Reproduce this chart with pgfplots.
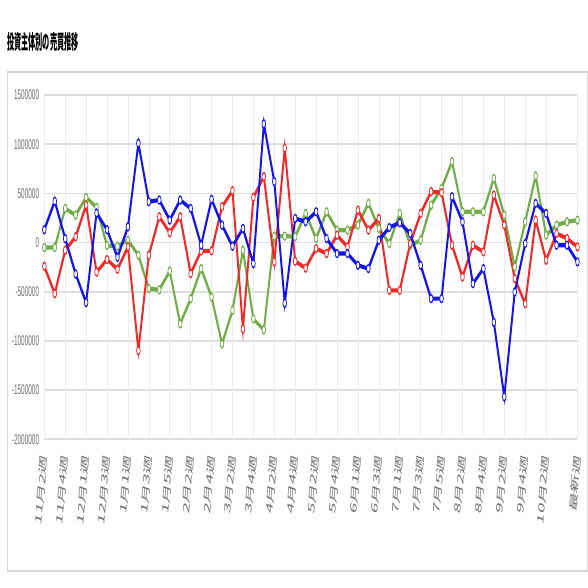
\documentclass[border=0pt]{standalone}
\usepackage{pgfplots}
\pgfplotsset{compat=1.18}
\usepackage{fontspec}
\setmainfont{Liberation Sans}
\newfontfamily\cjk{Noto Sans CJK JP}
\definecolor{cred}{RGB}{240,40,40}
\definecolor{cgreen}{RGB}{112,173,71}
\definecolor{cblue}{RGB}{20,20,235}
\definecolor{hgridc}{RGB}{222,222,222}
\definecolor{zeroc}{RGB}{192,192,192}
\definecolor{vgridc}{RGB}{236,236,236}
\definecolor{panelc}{RGB}{215,215,215}
\definecolor{labelc}{RGB}{110,110,110}
\begin{document}
\begin{tikzpicture}
\useasboundingbox (0,0) rectangle (588bp,588bp);
\begin{pgfinterruptboundingbox}
\begin{scope}[transform canvas={xscale=0.46}]
\draw[panelc, line width=2bp] (15.2bp,17bp) rectangle (1276bp,516bp);
\node[anchor=west, inner sep=0pt, xscale=0.78, font=\cjk\bfseries\fontsize{20bp}{22bp}\selectfont] at (15.2bp,546.5bp) {投資主体別の売買推移};
\begin{axis}[
  at={(96.3bp,148.7bp)}, anchor=south west,
  scale only axis, width=1159.1bp, height=344.3bp,
  xmin=0, xmax=51, ymin=-2000000, ymax=1500000,
  clip=false,
  axis line style={draw=none},
  tick style={draw=none},
  scaled y ticks=false,
  xtick={0,2,4,6,8,10,12,14,16,18,20,22,24,26,28,30,32,34,36,38,40,42,44,46,48,51},
  xticklabels={11月2週,11月4週,12月1週,12月3週,1月1週,1月3週,1月5週,2月2週,2月4週,3月2週,3月4週,4月2週,4月4週,5月2週,5月4週,6月1週,6月3週,7月1週,7月3週,7月5週,8月2週,8月4週,9月2週,9月4週,10月2週,最新週},
  ytick={-2000000,-1500000,-1000000,-500000,0,500000,1000000,1500000},
  yticklabels={-2000000,-1500000,-1000000,-500000,0,500000,1000000,1500000},
  xmajorgrids, ymajorgrids,
  x grid style={vgridc, line width=1.2bp},
  y grid style={hgridc, line width=1.6bp},
  extra y ticks={0}, extra y tick labels={},
  extra y tick style={grid style={zeroc, line width=2bp}},
  yticklabel style={font=\fontsize{14bp}{16bp}\selectfont, text=labelc, anchor=east, inner sep=0pt, xshift=-11bp},
  xticklabel style={font=\cjk\fontsize{19bp}{21bp}\selectfont, text=labelc, yshift=-16bp, anchor=east, rotate=80, inner sep=0pt},
]
\pgfplotsinvokeforeach{0,2,4,6,8,10,12,14,16,18,20,22,24,26,28,30,32,34,36,38,40,42,44,46,48,51}{
  \draw[vgridc, line width=1.2bp] (axis cs:#1,-2000000) -- ++(0,-86bp);
}
\addplot[cgreen, line width=4.2bp, mark=*, mark size=4bp, mark options={fill=white, draw=cgreen, line width=1.5bp}] coordinates {
(0,-51000) (1,-51000) (2,347000) (3,279000) (4,459000) (5,357000) (6,-30000) (7,-37000) (8,24000) (9,-129000)
(10,-469000) (11,-480000) (12,-290000) (13,-827000) (14,-571000) (15,-265000) (16,-554000) (17,-1031000) (18,-690000) (19,-78000)
(20,-776000) (21,-888000) (22,65000) (23,65000) (24,60000) (25,296000) (26,41000) (27,313000) (28,126000) (29,126000)
(30,177000) (31,398000) (32,143000) (33,-10000) (34,296000) (35,-27000) (36,24000) (37,381000) (38,551000) (39,823000)
(40,313000) (41,313000) (42,313000) (43,653000) (44,279000) (45,-248000) (46,211000) (47,677000) (48,75000) (49,177000)
(50,211000) (51,228000)
};
\addplot[cred, line width=4.2bp, mark=*, mark size=4bp, mark options={fill=white, draw=cred, line width=1.5bp}] coordinates {
(0,-241000) (1,-520000) (2,-78000) (3,58000) (4,381000) (5,-300000) (6,-173000) (7,-272000) (8,-44000) (9,-1099000)
(10,-129000) (11,262000) (12,100000) (13,262000) (14,-316000) (15,-85000) (16,-85000) (17,364000) (18,527000) (19,-878000)
(20,459000) (21,670000) (22,-197000) (23,959000) (24,-190000) (25,-260000) (26,-61000) (27,-112000) (28,75000) (29,-44000)
(30,330000) (31,126000) (32,245000) (33,-486000) (34,-486000) (35,-10000) (36,296000) (37,517000) (38,507000) (39,-27000)
(40,-350000) (41,-27000) (42,-95000) (43,483000) (44,177000) (45,-367000) (46,-622000) (47,228000) (48,-180000) (49,92000)
(50,41000) (51,-44000)
};
\addplot[cblue, line width=4.2bp, mark=*, mark size=4bp, mark options={fill=white, draw=cblue, line width=1.5bp}] coordinates {
(0,130000) (1,420000) (2,40000) (3,-320000) (4,-610000) (5,300000) (6,130000) (7,-150000) (8,160000) (9,1010000)
(10,415000) (11,432000) (12,228000) (13,432000) (14,347000) (15,-27000) (16,439000) (17,177000) (18,-37000) (19,143000)
(20,-214000) (21,1207000) (22,619000) (23,-616000) (24,245000) (25,211000) (26,313000) (27,41000) (28,-112000) (29,-112000)
(30,-231000) (31,-265000) (32,24000) (33,153000) (34,201000) (35,92000) (36,-231000) (37,-570000) (38,-570000) (39,466000)
(40,211000) (41,-418000) (42,-265000) (43,-810000) (44,-1568000) (45,-503000) (46,-10000) (47,398000) (48,296000) (49,-27000)
(50,-27000) (51,-197000)
};
\end{axis}
\end{scope}
\end{pgfinterruptboundingbox}
\end{tikzpicture}
\end{document}
